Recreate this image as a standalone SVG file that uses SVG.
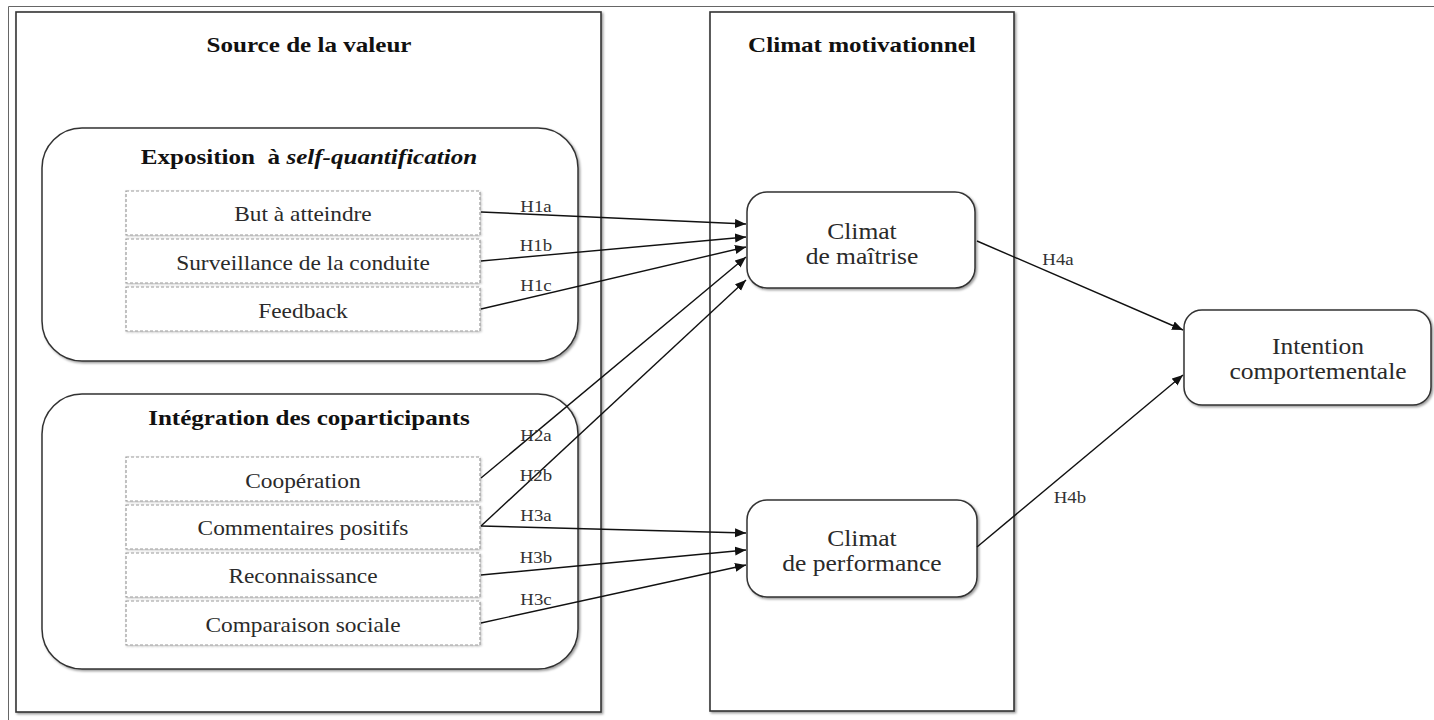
<svg xmlns="http://www.w3.org/2000/svg" width="1434" height="720" viewBox="0 0 1434 720">
<style>
  text { font-family: "Liberation Serif", "Times New Roman", serif; text-anchor: middle; transform-box: fill-box; transform-origin: center; transform: scaleX(1.14); }
  .title { font-size: 22px; font-weight: bold; fill: #111; }
  .row { font-size: 20.5px; fill: #2a2a2a; }
  .node { font-size: 22.4px; fill: #2a2a2a; }
  .lbl { font-size: 16.5px; fill: #333; }
  .frame { fill: none; stroke: #666; stroke-width: 1; }
  .panel { fill: #fff; stroke: #333; stroke-width: 1.6; filter: url(#sh); }
  .group { fill: #fff; stroke: #333; stroke-width: 1.5; filter: url(#sh); }
  .cell { fill: #fff; stroke: #9a9a9a; stroke-width: 1.2; stroke-dasharray: 3 2; filter: url(#sh2); }
  .box { fill: #fff; stroke: #333; stroke-width: 1.5; filter: url(#sh); }
  .conn { fill: none; stroke: #111; stroke-width: 1.4; marker-end: url(#arr); }
</style>
<defs>
  <filter id="sh" x="-5%" y="-5%" width="110%" height="110%">
    <feDropShadow dx="1.5" dy="1.5" stdDeviation="1" flood-color="#000" flood-opacity="0.4"/>
  </filter>
  <filter id="sh2" x="-5%" y="-5%" width="110%" height="120%">
    <feDropShadow dx="1" dy="1" stdDeviation="0.8" flood-color="#000" flood-opacity="0.25"/>
  </filter>
  <marker id="arr" markerUnits="userSpaceOnUse" markerWidth="12" markerHeight="10" refX="11" refY="4.5" orient="auto">
    <path d="M0,0 L11,4.5 L0,9 z" fill="#111"/>
  </marker>
</defs>

<rect width="1434" height="720" fill="#fff"/>
<path class="frame" d="M8.5,720 L8.5,6.5 L1434,6.5"/>

<g id="source-de-la-valeur">
  <rect class="panel" x="16" y="12" width="585" height="700"/>
  <text class="title" x="309" y="52">Source de la valeur</text>
</g>

<g id="climat-motivationnel">
  <rect class="panel" x="710" y="12" width="304" height="699"/>
  <text class="title" x="862" y="52">Climat motivationnel</text>
</g>

<g id="exposition">
  <rect class="group" x="42" y="128" width="536" height="233" rx="40" ry="40"/>
  <text class="title" x="309" y="164">Exposition&#160; à <tspan font-style="italic">self-quantification</tspan></text>
</g>
<g id="but-a-atteindre">
  <rect class="cell" x="126" y="191" width="354" height="44"/>
  <text class="row" x="303" y="221">But à atteindre</text>
</g>
<g id="surveillance">
  <rect class="cell" x="126" y="239" width="354" height="44"/>
  <text class="row" x="303" y="270">Surveillance de la conduite</text>
</g>
<g id="feedback">
  <rect class="cell" x="126" y="287" width="354" height="44"/>
  <text class="row" x="303" y="318">Feedback</text>
</g>

<g id="integration">
  <rect class="group" x="42" y="394" width="536" height="275" rx="40" ry="40"/>
  <text class="title" x="309" y="425">Intégration des coparticipants</text>
</g>
<g id="cooperation">
  <rect class="cell" x="126" y="457" width="354" height="44"/>
  <text class="row" x="303" y="488">Coopération</text>
</g>
<g id="commentaires-positifs">
  <rect class="cell" x="126" y="505" width="354" height="44"/>
  <text class="row" x="303" y="535">Commentaires positifs</text>
</g>
<g id="reconnaissance">
  <rect class="cell" x="126" y="553" width="354" height="44"/>
  <text class="row" x="303" y="583">Reconnaissance</text>
</g>
<g id="comparaison-sociale">
  <rect class="cell" x="126" y="601" width="354" height="44"/>
  <text class="row" x="303" y="632">Comparaison sociale</text>
</g>

<g id="climat-maitrise">
  <rect class="box" x="747" y="192" width="228" height="96" rx="20" ry="20"/>
  <text class="node" x="862" y="239">Climat</text>
  <text class="node" x="862" y="264">de maîtrise</text>
</g>
<g id="climat-performance">
  <rect class="box" x="747" y="500" width="230" height="97" rx="20" ry="20"/>
  <text class="node" x="862" y="546">Climat</text>
  <text class="node" x="862" y="571">de performance</text>
</g>
<g id="intention">
  <rect class="box" x="1184" y="310" width="247" height="95" rx="18" ry="18"/>
  <text class="node" x="1318" y="354">Intention</text>
  <text class="node" x="1318" y="379">comportementale</text>
</g>

<g id="connectors">
  <line class="conn" x1="481" y1="212" x2="746" y2="224"/>
  <line class="conn" x1="481" y1="261" x2="746" y2="237"/>
  <line class="conn" x1="481" y1="309" x2="746" y2="247"/>
  <line class="conn" x1="481" y1="478" x2="746" y2="257"/>
  <line class="conn" x1="481" y1="526" x2="746" y2="280"/>
  <line class="conn" x1="481" y1="526" x2="746" y2="533"/>
  <line class="conn" x1="481" y1="575" x2="746" y2="550"/>
  <line class="conn" x1="481" y1="623" x2="746" y2="565"/>
  <line class="conn" x1="977" y1="241" x2="1183" y2="330"/>
  <line class="conn" x1="977" y1="547" x2="1183" y2="375"/>
  <text class="lbl" x="536" y="212">H1a</text>
  <text class="lbl" x="536" y="251">H1b</text>
  <text class="lbl" x="536" y="291">H1c</text>
  <text class="lbl" x="536" y="441">H2a</text>
  <text class="lbl" x="536" y="481">H2b</text>
  <text class="lbl" x="536" y="521">H3a</text>
  <text class="lbl" x="536" y="563">H3b</text>
  <text class="lbl" x="536" y="605">H3c</text>
  <text class="lbl" x="1058" y="265">H4a</text>
  <text class="lbl" x="1070" y="503">H4b</text>
</g>
</svg>
